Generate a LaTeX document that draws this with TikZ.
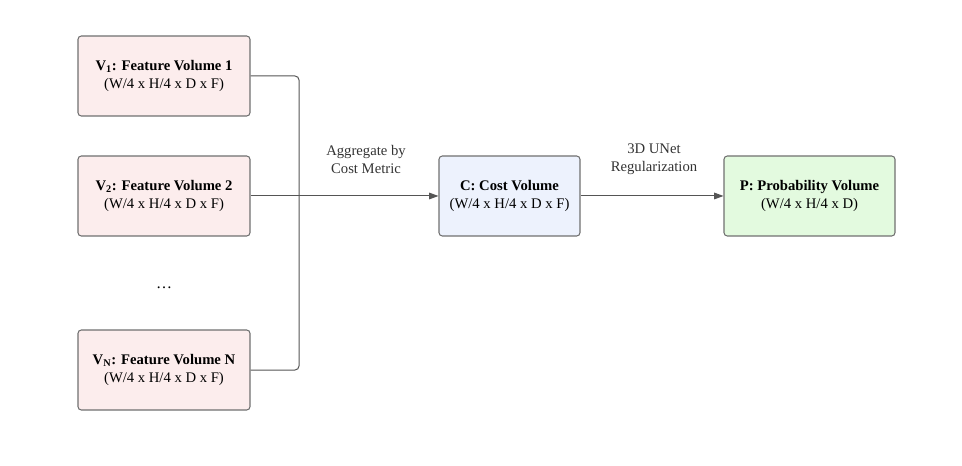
\documentclass[tikz,border=0pt]{standalone}
\usepackage{fontspec}
\setmainfont{Liberation Serif}
\usetikzlibrary{arrows.meta}
\definecolor{pinkf}{HTML}{FCEDED}
\definecolor{bluef}{HTML}{EDF2FD}
\definecolor{greenf}{HTML}{E3FADF}
\definecolor{edge}{HTML}{707070}
\definecolor{line}{HTML}{555555}
\begin{document}
\begin{tikzpicture}[x=0.75pt,y=-0.75pt,
  box/.style={draw=edge, line width=0.8pt, rounded corners=2.5pt, minimum width=172*0.75pt, minimum height=80*0.75pt, align=center, inner sep=0pt, font=\fontsize{11}{13.5}\selectfont},
  conn/.style={draw=line, line width=0.75pt},
  lbl/.style={align=center, font=\fontsize{11}{13.5}\selectfont, text=black!80}]
\useasboundingbox (0,0) rectangle (962,466);
\node[box, fill=pinkf] (v1) at (164,76) {\textbf{V\textsubscript{1}: Feature Volume 1}\\(W/4 x H/4 x D x F)};
\node[box, fill=pinkf] (v2) at (164,196) {\textbf{V\textsubscript{2}: Feature Volume 2}\\(W/4 x H/4 x D x F)};
\node[box, fill=pinkf] (vn) at (164,370) {\textbf{V\textsubscript{N}: Feature Volume N}\\(W/4 x H/4 x D x F)};
\node (dots) at (164,288) {\fontsize{12}{14}\selectfont\dots};
\node[box, fill=bluef, minimum width=141*0.75pt] (c) at (509.5,196) {\textbf{C: Cost Volume}\\(W/4 x H/4 x D x F)};
\node[box, fill=greenf, minimum width=171*0.75pt] (p) at (809.5,196) {\textbf{P: Probability Volume}\\(W/4 x H/4 x D)};
\coordinate (j) at (299,196);
\draw[conn, rounded corners=3pt] (v1.east) -| (j);
\draw[conn, rounded corners=3pt] (vn.east) -| (j);
\draw[conn, -{Triangle[length=7pt,width=5pt]}] (v2.east) -- (c.west);
\draw[conn, -{Triangle[length=7pt,width=5pt]}] (c.east) -- (p.west);
\node[lbl] (l1) at (366,159) {Aggregate by\\Cost Metric};
\node[lbl] (l2) at (654,159) {3D UNet\\Regularization};
\end{tikzpicture}
\end{document}
